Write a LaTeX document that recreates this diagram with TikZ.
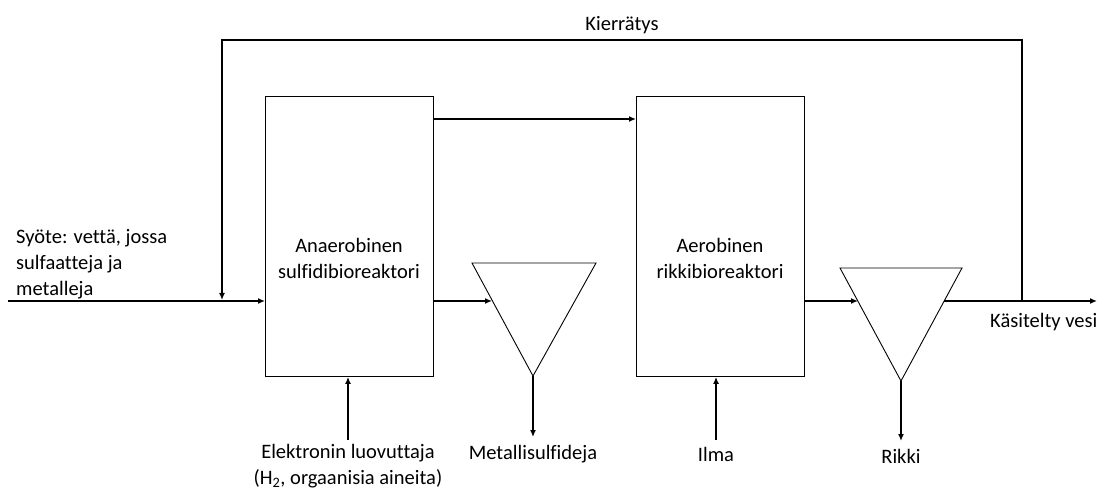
\documentclass[tikz,border=0pt]{standalone}
\usepackage{fontspec}
\setmainfont[Ligatures=NoCommon]{Carlito}
\usetikzlibrary{arrows.meta}

\begin{document}
\begin{tikzpicture}[x=1pt, y=-1pt, >={Latex[length=7pt,width=6pt]},
    flow/.style={->, line width=1.8pt},
    unit/.style={draw, line width=0.9pt, minimum width=168, minimum height=280, anchor=north west},
    lbl/.style={font=\fontsize{20.5}{26}\selectfont, inner sep=0pt, align=center}]
    \useasboundingbox (0,0) rectangle (1109,489);
    % reactors
    \node[unit] (anaer) at (265,96) {};
    \node[unit] (aer) at (636,96) {};
    \node[lbl] (anaertxt) at (349,258) {Anaerobinen\\sulfidibioreaktori};
    \node[lbl] (aertxt) at (720,258) {Aerobinen\\rikkibioreaktori};
    % settlers
    \draw[line width=0.9pt] (472,263) -- (596,263) -- (533,376) -- cycle;
    \draw[line width=0.9pt] (840,268) -- (962,268) -- (901,381) -- cycle;
    \coordinate (sep1) at (533,376);
    \coordinate (sep1in) at (492,301);
    \coordinate (sep2) at (901,381);
    \coordinate (sep2in) at (858,301);
    \coordinate (sep2out) at (944,301);
    % free ends
    \coordinate (feed) at (8,301);
    \coordinate (out) at (1097,301);
    \coordinate (rec) at (1022,301);
    \coordinate (donor) at (348,440);
    \coordinate (sulf) at (533,437);
    \coordinate (air) at (716,440);
    \coordinate (sulfur) at (901,441);
    % flows
    \draw[flow] (feed) -- (anaer.west |- feed);
    \draw[flow] (anaer.east |- 0,119) -- (aer.west |- 0,119);
    \draw[flow] (anaer.east |- feed) -- (sep1in);
    \draw[flow] (aer.east |- feed) -- (sep2in);
    \draw[flow] (sep2out) -- (out);
    \draw[flow] (rec) -- (1022,40) -| (222,300);
    \draw[flow] (donor) -- (anaer.south -| donor);
    \draw[flow] (sep1) -- (sulf);
    \draw[flow] (air) -- (aer.south -| air);
    \draw[flow] (sep2) -- (sulfur);
    % labels
    \node[lbl] (kier) at (622,25) {Kierrätys};
    \node[lbl, anchor=west] (outtxt) at (990,322) {Käsitelty vesi};
    \node[lbl, anchor=west, align=left] (feedtxt) at (16,264) {Syöte: vettä, jossa\\sulfaatteja ja\\metalleja};
    \node[lbl] (donortxt) at (348,466) {Elektronin luovuttaja\\(H\textsubscript{2}, orgaanisia aineita)};
    \node[lbl] (sulftxt) at (533,454) {Metallisulfideja};
    \node[lbl] (airtxt) at (716,454) {Ilma};
    \node[lbl] (sulfurtxt) at (901,456) {Rikki};
\end{tikzpicture}
\end{document}
